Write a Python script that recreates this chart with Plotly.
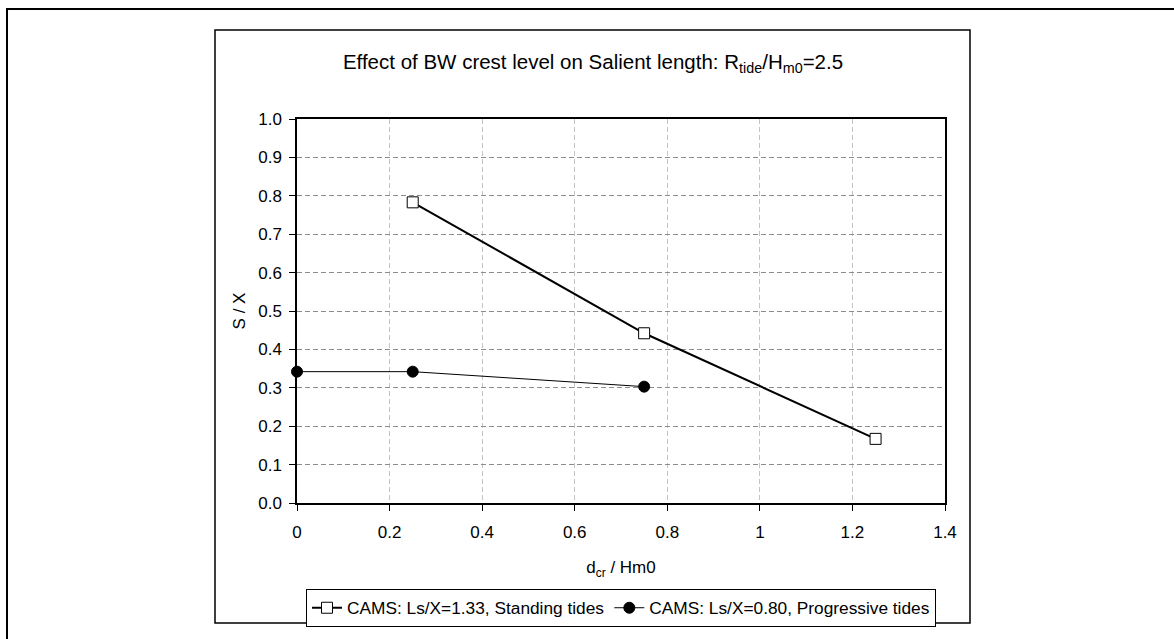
import plotly.graph_objects as go

# ---- data ----
standing_x = [0.25, 0.75, 1.25]
standing_y = [0.783, 0.442, 0.167]
progressive_x = [0.0, 0.25, 0.75]
progressive_y = [0.342, 0.342, 0.303]
standing_name = "CAMS: Ls/X=1.33, Standing tides"
progressive_name = "CAMS: Ls/X=0.80, Progressive tides"
x_ticks = [0, 0.2, 0.4, 0.6, 0.8, 1, 1.2, 1.4]
x_tick_labels = ["0", "0.2", "0.4", "0.6", "0.8", "1", "1.2", "1.4"]
y_ticks = [0.0, 0.1, 0.2, 0.3, 0.4, 0.5, 0.6, 0.7, 0.8, 0.9, 1.0]
y_tick_labels = ["0.0", "0.1", "0.2", "0.3", "0.4", "0.5", "0.6", "0.7", "0.8", "0.9", "1.0"]

W, H = 1174, 639
L, R, T, B = 297, 945, 119, 503
FONT = "Liberation Sans, Arial, sans-serif"


def px(x):
    return (x - L) / (R - L)


def py(y):
    return (B - y) / (B - T)


fig = go.Figure()
fig.add_trace(go.Scatter(
    x=standing_x, y=standing_y, name=standing_name, mode="lines+markers",
    line=dict(color="black", width=2),
    marker=dict(symbol="square", size=11, color="white", line=dict(color="black", width=1)),
))
fig.add_trace(go.Scatter(
    x=progressive_x, y=progressive_y, name=progressive_name, mode="lines+markers",
    line=dict(color="black", width=1),
    marker=dict(symbol="circle", size=11, color="black", line=dict(color="black", width=1)),
    cliponaxis=False,
))

shapes = [
    # outer frame
    dict(type="rect", xref="paper", yref="paper", x0=px(7), x1=px(W + 20), y0=py(H + 20), y1=py(9),
         line=dict(color="black", width=2), fillcolor="rgba(0,0,0,0)", layer="below"),
    # chart frame
    dict(type="rect", xref="paper", yref="paper", x0=px(215), x1=px(970), y0=py(623), y1=py(30),
         line=dict(color="black", width=1.5), fillcolor="rgba(0,0,0,0)", layer="below"),
]

fig.update_layout(
    width=W, height=H,
    margin=dict(l=L, r=W - R, t=T, b=H - B),
    paper_bgcolor="white", plot_bgcolor="white",
    font=dict(family=FONT, size=17, color="black"),
    title=dict(
        text="Effect of BW crest level on Salient length: R<sub>tide</sub>/H<sub>m0</sub>=2.5",
        xref="container", x=593 / W, xanchor="center",
        yref="container", y=1 - 62 / H, yanchor="middle",
        font=dict(family=FONT, size=20.5, color="black"),
    ),
    xaxis=dict(
        range=[0, 1.4], tickvals=x_ticks, ticktext=x_tick_labels,
        showgrid=True, gridcolor="#c4c4c4", griddash="5px,3px", gridwidth=1,
        showline=True, linecolor="black", linewidth=1.5, mirror=True,
        ticks="outside", ticklen=6, tickcolor="black", zeroline=False,
        ticklabelstandoff=7,
        title=dict(text="d<sub>cr</sub> / Hm0", standoff=20, font=dict(size=17)),
        tickfont=dict(size=17),
    ),
    yaxis=dict(
        range=[0, 1.0], tickvals=y_ticks, ticktext=y_tick_labels,
        showgrid=True, gridcolor="#8c8c8c", griddash="5px,3px", gridwidth=1,
        showline=True, linecolor="black", linewidth=1.5, mirror=True,
        ticks="outside", ticklen=6, tickcolor="black", zeroline=False,
        ticklabelstandoff=4,
        title=dict(text="S / X", standoff=8, font=dict(size=17)),
        tickfont=dict(size=17),
    ),
    legend=dict(
        orientation="h", x=px(306), xanchor="left", y=py(589), yanchor="top",
        bordercolor="black", borderwidth=1, bgcolor="white",
        font=dict(size=17.3), itemwidth=30, tracegroupgap=0,
    ),
    shapes=shapes,
    showlegend=True,
)

fig.write_html("out.html")
